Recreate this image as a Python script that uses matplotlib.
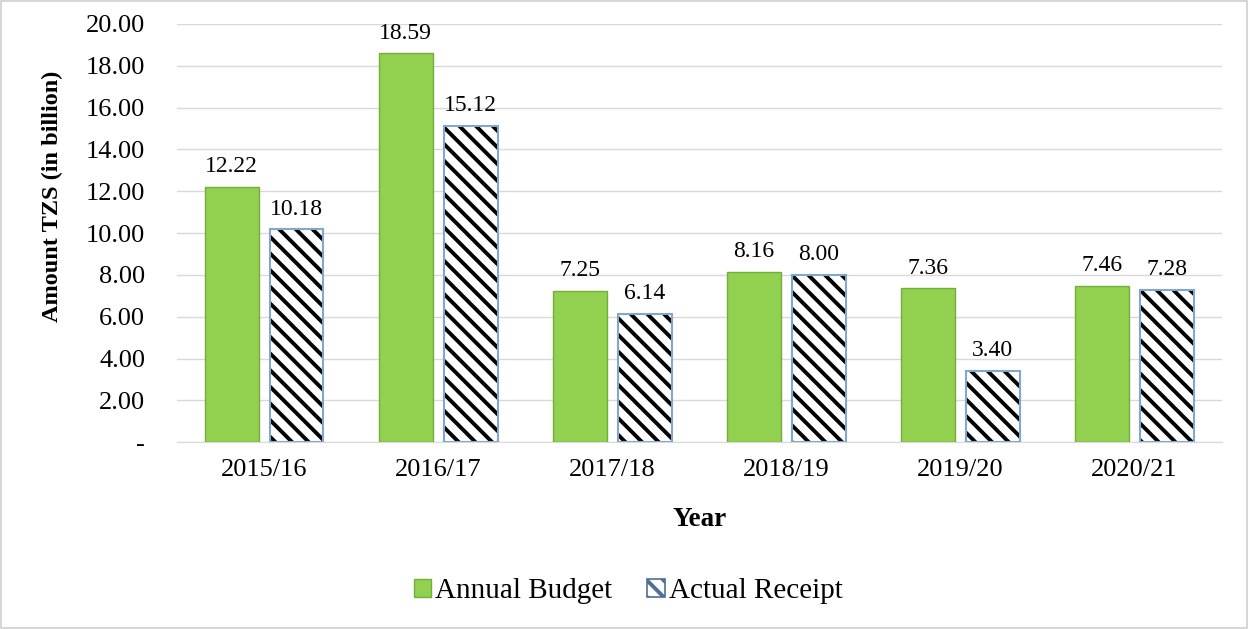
import matplotlib
matplotlib.use("Agg")
import matplotlib.pyplot as plt
import numpy as np
from matplotlib.patches import Rectangle

years = ["2015/16", "2016/17", "2017/18", "2018/19", "2019/20", "2020/21"]
annual_budget = [12.22, 18.59, 7.25, 8.16, 7.36, 7.46]
actual_receipt = [10.18, 15.12, 6.14, 8.00, 3.40, 7.28]
yticks = [0, 2, 4, 6, 8, 10, 12, 14, 16, 18, 20]
ytick_labels = ["-"] + [f"{v:.2f}" for v in yticks[1:]]

plt.rcParams['font.family'] = ['Liberation Serif', 'DejaVu Serif']
plt.rcParams['hatch.linewidth'] = 2.8

fig = plt.figure(figsize=(12.49, 6.29), dpi=100)
fig.patches.append(Rectangle((0.001, 0.001), 0.997, 0.997, transform=fig.transFigure,
                             fill=False, edgecolor='#D0D0D0', linewidth=1.2))
ax = fig.add_axes([0.1417, 0.297, 0.8363, 0.665])

x = np.arange(len(years))
w = 0.31
gap = 0.063
green = '#92D050'
xl = x - (w + gap) / 2
xr = x + (w + gap) / 2
b1 = ax.bar(xl, annual_budget, w, color=green, edgecolor='#74AE3A',
            linewidth=1.0, zorder=3)
ax.bar(xr, actual_receipt, w, color='white', edgecolor='black', hatch='\\\\',
       linewidth=0, zorder=3)
ax.bar(xr, actual_receipt, w, fill=False, edgecolor='#7FA7D0', linewidth=1.5, zorder=4)

for xs, vals in ((xl, annual_budget), (xr, actual_receipt)):
    for xi, v in zip(xs, vals):
        ax.annotate(f"{v:.2f}", (xi, v), xytext=(0, 7),
                    textcoords='offset points', ha='center', va='bottom', fontsize=17)

ax.set_ylim(0, 20)
ax.set_xlim(-0.5, len(years) - 0.5)
ax.set_yticks(yticks)
ax.set_yticklabels(ytick_labels, fontsize=19)
ax.set_xticks(x)
ax.set_xticklabels(years, fontsize=19)
ax.tick_params(axis='x', length=0, pad=12)
ax.tick_params(axis='y', length=0, pad=23)
ax.grid(axis='y', color='#D9D9D9', linewidth=1.0, zorder=0)
for s in ['top', 'right', 'left']:
    ax.spines[s].set_visible(False)
ax.spines['bottom'].set_color('#D9D9D9')

ax.set_xlabel('Year', fontsize=19.5, fontweight='bold', labelpad=19)
ax.set_ylabel('Amount TZS (in billion)', fontsize=17.5, fontweight='bold')
ax.yaxis.set_label_coords(-0.109, 0.589)

h1 = Rectangle((0, 0), 1, 1, facecolor=green, edgecolor='#74AE3A', linewidth=1.0)
h2 = Rectangle((0, 0), 1, 1, facecolor='white', edgecolor='#4F6F95', hatch='\\\\', linewidth=1.2)
fig.legend(handles=[h1, h2], labels=['Annual Budget', 'Actual Receipt'], loc='center',
           bbox_to_anchor=(0.503, 0.06), ncol=2, frameon=False, fontsize=21,
           handlelength=0.6, handleheight=0.6, handletextpad=0.14, columnspacing=1.2)

fig.savefig('out.png', dpi=100)
